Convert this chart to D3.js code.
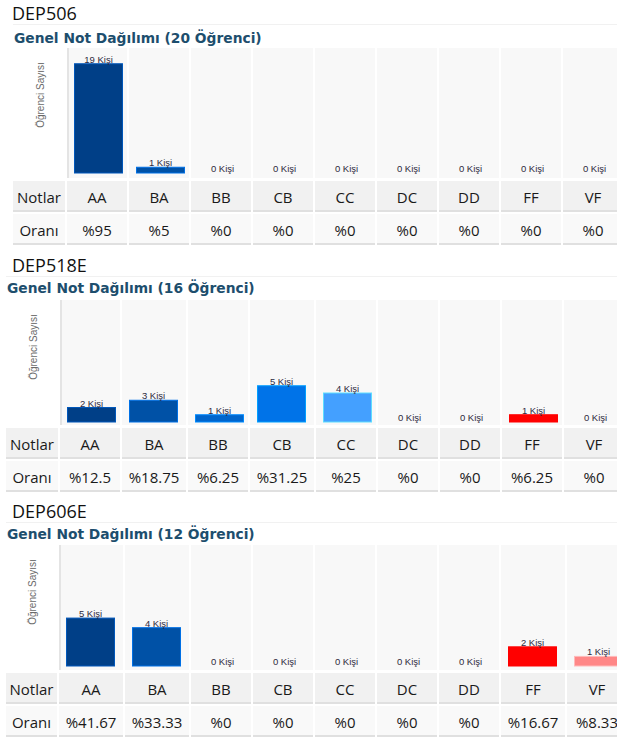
<!DOCTYPE html>
<html>
<head>
<meta charset="utf-8">
<script src="https://cdn.jsdelivr.net/npm/d3@7"></script>
<style>
  body { margin: 0; background: #fff; }
  svg { display: block; overflow: hidden; }
</style>
</head>
<body>
<script>
// grades shown on every chart
var grades = ["AA", "BA", "BB", "CB", "CC", "DC", "DD", "FF", "VF"];
var gradeColors = ["#003f87", "#0051a6", "#0065cc", "#0073e8", "#44a0ff", "#7fbfff", "#a9d5ff", "#ff0000", "#ff8787"];

// course data
var courses = ["DEP506", "DEP518E", "DEP606E"];
var totals = [20, 16, 12];
var counts506 = [19, 1, 0, 0, 0, 0, 0, 0, 0];
var counts518E = [2, 3, 1, 5, 4, 0, 0, 1, 0];
var counts606E = [5, 4, 0, 0, 0, 0, 0, 2, 1];
var rates506 = ["%95", "%5", "%0", "%0", "%0", "%0", "%0", "%0", "%0"];
var rates518E = ["%12.5", "%18.75", "%6.25", "%31.25", "%25", "%0", "%0", "%6.25", "%0"];
var rates606E = ["%41.67", "%33.33", "%0", "%0", "%0", "%0", "%0", "%16.67", "%8.33"];

var allCounts = [counts506, counts518E, counts606E];
var allRates = [rates506, rates518E, rates606E];

// where each block sits on the page
var layout = [
    {dep: 20,  title: 43,  plotTop: 48,  barBase: 173, row: 181, x0: 13, axisX: 67, head: 10},
    {dep: 272, title: 293, plotTop: 300, barBase: 422, row: 428, x0: 6,  axisX: 60, head: 6},
    {dep: 518, title: 539, plotTop: 545, barBase: 666, row: 673, x0: 6,  axisX: 59, head: 6}
];

var W = 617, H = 738;
var rowH = 31, gap = 2, barW = 48, minCol = 62;

var svg = d3.select("body").append("svg")
    .attr("width", W)
    .attr("height", H);

// helper to measure table text so the columns size like an auto table
var measure = svg.append("text")
    .style("font-family", "'Open Sans'")
    .style("font-size", "15px")
    .attr("visibility", "hidden");
function textW(s) {
    measure.text(s);
    return measure.node().getComputedTextLength();
}

courses.forEach(function(course, p) {
    var L = layout[p],
        counts = allCounts[p],
        rates = allRates[p];
    var g = svg.append("g");

    // column lefts
    var lefts = [], widths = [], cx = L.axisX;
    grades.forEach(function(gr, i) {
        var w = Math.max(minCol, Math.round(textW(rates[i]) + 15));
        lefts.push(cx);
        widths.push(w);
        cx += w;
    });
    var x = d3.scaleOrdinal().domain(grades).range(lefts);
    var xw = d3.scaleOrdinal().domain(grades).range(widths);
    var y = d3.scaleLinear().domain([0, totals[p]]).range([L.barBase, L.plotTop + L.head]);

    // course code
    g.append("text")
        .attr("x", 12)
        .attr("y", L.dep)
        .style("font-family", "'Open Sans'")
        .style("font-size", "18px")
        .style("fill", "#111")
        .text(course);
    g.append("line")
        .attr("x1", L.x0).attr("x2", W)
        .attr("y1", L.dep + 4.5).attr("y2", L.dep + 4.5)
        .style("stroke", "#f1f1f1");

    // chart title
    g.append("text")
        .attr("x", L.x0 + 1)
        .attr("y", L.title)
        .style("font-family", "'DejaVu Sans'")
        .style("font-weight", "bold")
        .style("font-size", "13.8px")
        .style("fill", "#1d4e6d")
        .text("Genel Not Dağılımı (" + totals[p] + " Öğrenci)");

    // plot column backgrounds
    g.selectAll(".colbg")
        .data(grades)
        .enter()
        .append("rect")
        .attr("x", function(d) { return x(d) + (d === grades[0] ? 2 : 0); })
        .attr("y", L.plotTop)
        .attr("width", function(d) { return xw(d) - gap - (d === grades[0] ? 2 : 0); })
        .attr("height", L.row - L.plotTop - 3)
        .style("fill", "#f8f8f8");

    // axis line
    g.append("rect")
        .attr("x", L.axisX)
        .attr("y", L.plotTop)
        .attr("width", 2)
        .attr("height", L.row - L.plotTop - 3)
        .style("fill", "#e4e4e4");

    // y label
    g.append("text")
        .attr("transform", "translate(" + (L.axisX - 23) + "," + (L.plotTop + 47) + ") rotate(-90)")
        .attr("text-anchor", "middle")
        .style("font-family", "'Liberation Sans'")
        .style("font-size", "10px")
        .style("fill", "#6a6a6a")
        .text("Öğrenci Sayısı");

    // bars
    g.selectAll(".bar")
        .data(grades)
        .enter()
        .append("rect")
        .attr("x", function(d) { return x(d) + 7.5; })
        .attr("y", function(d, i) { return y(counts[i]); })
        .attr("width", barW)
        .attr("height", function(d, i) { return y(0) - y(counts[i]); })
        .style("fill", function(d, i) { return gradeColors[i]; })
        .style("stroke", function(d, i) { return d3.color(gradeColors[i]).brighter(0.9); })
        .style("stroke-width", function(d, i) { return counts[i] > 0 ? 1 : 0; });

    // bar labels
    g.selectAll(".lbl")
        .data(grades)
        .enter()
        .append("text")
        .attr("x", function(d) { return x(d) + 7.5 + barW / 2; })
        .attr("y", function(d, i) { return y(counts[i]) - 1; })
        .attr("text-anchor", "middle")
        .style("font-family", "'Liberation Sans'")
        .style("font-size", "9.5px")
        .style("fill", "#2e2a40")
        .text(function(d, i) { return counts[i] + " Kişi"; });

    // table rows
    var rows = [
        {label: "Notlar", vals: grades, top: L.row, fill: "#f1f1f1"},
        {label: "Oranı", vals: rates, top: L.row + rowH + gap, fill: "#f9f9f9"}
    ];
    rows.forEach(function(r) {
        var cells = [{x: L.x0, w: L.axisX - L.x0, t: r.label}];
        grades.forEach(function(gr, i) { cells.push({x: x(gr), w: xw(gr), t: r.vals[i]}); });

        var cg = g.selectAll(".cell" + r.label)
            .data(cells)
            .enter()
            .append("g");
        cg.append("rect")
            .attr("x", function(d) { return d.x; })
            .attr("y", r.top)
            .attr("width", function(d) { return d.w - gap; })
            .attr("height", rowH - 2)
            .style("fill", r.fill);
        cg.append("rect")
            .attr("x", function(d) { return d.x; })
            .attr("y", r.top + rowH - 2)
            .attr("width", function(d) { return d.w - gap; })
            .attr("height", 2)
            .style("fill", "#e0e0e0");
        cg.append("text")
            .attr("x", function(d) { return d.x + (d.w - gap) / 2; })
            .attr("y", r.top + 21.5)
            .attr("text-anchor", "middle")
            .style("font-family", "'Open Sans'")
            .style("font-size", "15px")
            .style("fill", "#1a1a1a")
            .text(function(d) { return d.t; });
    });
});

measure.remove();
</script>
</body>
</html>
